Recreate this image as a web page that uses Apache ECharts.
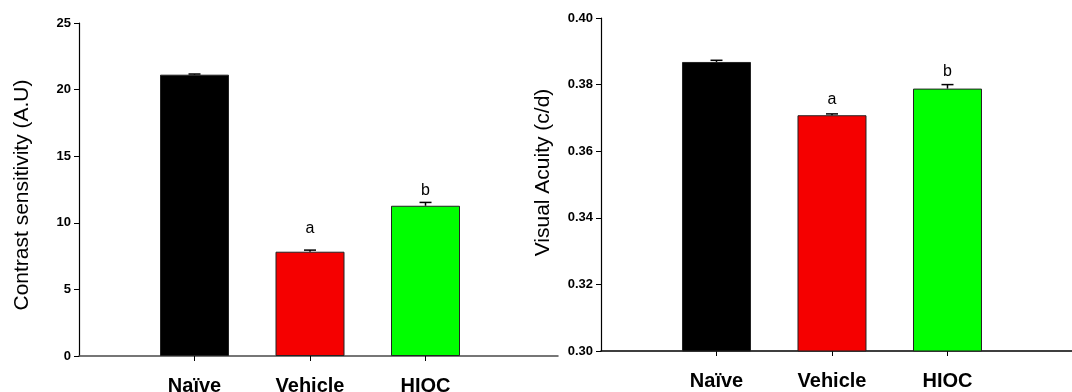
<!DOCTYPE html>
<html><head><meta charset="utf-8">
<script src="https://cdn.jsdelivr.net/npm/echarts@6/dist/echarts.min.js"></script>
<style>html,body{margin:0;padding:0;background:#fff}#c{width:1072px;height:392px}</style>
</head><body><div id="c"></div>
<script>
const categories = ['Naïve', 'Vehicle', 'HIOC'];
const contrastMean = [21.12, 7.83, 11.28];
const contrastErr = [0.05, 0.12, 0.25];
const contrastLetters = ['', 'a', 'b'];
const contrastLetterY = [null, 9.55, 12.4];
const acuityMean = [0.3868, 0.3708, 0.3788];
const acuityErr = [0.0005, 0.0004, 0.0012];
const acuityLetters = ['', 'a', 'b'];
const acuityLetterY = [null, 0.3756, 0.3840];

const barColors = ['#000000', '#f50000', '#00ff00'];
const FONT = '"Liberation Sans", Arial, sans-serif';

function barData(means) {
  return means.map((m, i) => ({ value: [i + 1, m], itemStyle: { color: barColors[i] } }));
}
function errData(means, errs) {
  return means.map((m, i) => [i + 1, m, errs[i]]);
}
function letterData(ys) {
  const out = [];
  ys.forEach((y, i) => { if (y != null) out.push([i + 1, y, i]); });
  return out;
}
function errRender(params, api) {
  const x = api.value(0), v = api.value(1), e = api.value(2);
  const p0 = api.coord([x, v]);
  const p1 = api.coord([x, v + e]);
  return { type: 'group', children: [
    { type: 'line', shape: { x1: p0[0], y1: p0[1], x2: p1[0], y2: p1[1] }, style: { stroke: '#000', lineWidth: 1.5 } },
    { type: 'line', shape: { x1: p1[0] - 6, y1: p1[1], x2: p1[0] + 6, y2: p1[1] }, style: { stroke: '#000', lineWidth: 1.5 } }
  ]};
}
function letterRender(letters) {
  return function (params, api) {
    const p = api.coord([api.value(0), api.value(1)]);
    return { type: 'text', x: p[0], y: p[1], style: { text: letters[api.value(2)], fill: '#000', font: '16px ' + FONT, textAlign: 'center', textVerticalAlign: 'middle' } };
  };
}
function xAxisCfg(gridIndex, max, lineColor) {
  return {
    type: 'value', gridIndex, min: 0, max, interval: 1,
    axisLine: { lineStyle: { color: lineColor, width: 1.5 } },
    axisTick: { show: true, customValues: [1, 2, 3], length: 5, lineStyle: { color: '#000', width: 1 } },
    axisLabel: { customValues: [1, 2, 3], formatter: v => categories[v - 1] || '', color: '#000', fontWeight: 'bold', fontSize: 20, fontFamily: FONT, margin: 20 },
    splitLine: { show: false }
  };
}
function yAxisCfg(gridIndex, min, max, interval, name, digits, gap, pad) {
  return {
    type: 'value', gridIndex, min, max, interval, name, nameLocation: 'middle', nameGap: gap,
    nameTextStyle: { fontSize: 21, fontFamily: FONT, color: '#000', padding: pad },
    axisLine: { show: true, lineStyle: { color: '#000', width: 1.2 } },
    axisTick: { show: true, length: 5, lineStyle: { color: '#000' } },
    axisLabel: { formatter: v => v.toFixed(digits), color: '#000', fontWeight: 'bold', fontSize: 13, fontFamily: FONT, margin: 8 },
    splitLine: { show: false }
  };
}
const chart = echarts.init(document.getElementById('c'));
chart.setOption({
  animation: false,
  grid: [
    { left: 79, top: 23, width: 479, bottom: 36, outerBoundsMode: 'none', containLabel: false },
    { left: 601, top: 18, right: 0, bottom: 41, outerBoundsMode: 'none', containLabel: false }
  ],
  xAxis: [xAxisCfg(0, 4.147, '#4a4a4a'), xAxisCfg(1, 4.078, '#000')],
  yAxis: [
    yAxisCfg(0, 0, 25, 5, 'Contrast sensitivity (A.U)', 0, 46, [0, 11, 0, 0]),
    yAxisCfg(1, 0.30, 0.40, 0.02, 'Visual Acuity (c/d)', 2, 47, [0, 0, 0, 24])
  ],
  series: [
    { type: 'bar', xAxisIndex: 0, yAxisIndex: 0, barWidth: 69, data: barData(contrastMean), itemStyle: { borderColor: '#222', borderWidth: 1 } },
    { type: 'custom', xAxisIndex: 0, yAxisIndex: 0, renderItem: errRender, data: errData(contrastMean, contrastErr), z: 5 },
    { type: 'custom', xAxisIndex: 0, yAxisIndex: 0, renderItem: letterRender(contrastLetters), data: letterData(contrastLetterY), z: 6 },
    { type: 'bar', xAxisIndex: 1, yAxisIndex: 1, barWidth: 69, data: barData(acuityMean), itemStyle: { borderColor: '#222', borderWidth: 1 } },
    { type: 'custom', xAxisIndex: 1, yAxisIndex: 1, renderItem: errRender, data: errData(acuityMean, acuityErr), z: 5 },
    { type: 'custom', xAxisIndex: 1, yAxisIndex: 1, renderItem: letterRender(acuityLetters), data: letterData(acuityLetterY), z: 6 }
  ]
});
</script></body></html>
